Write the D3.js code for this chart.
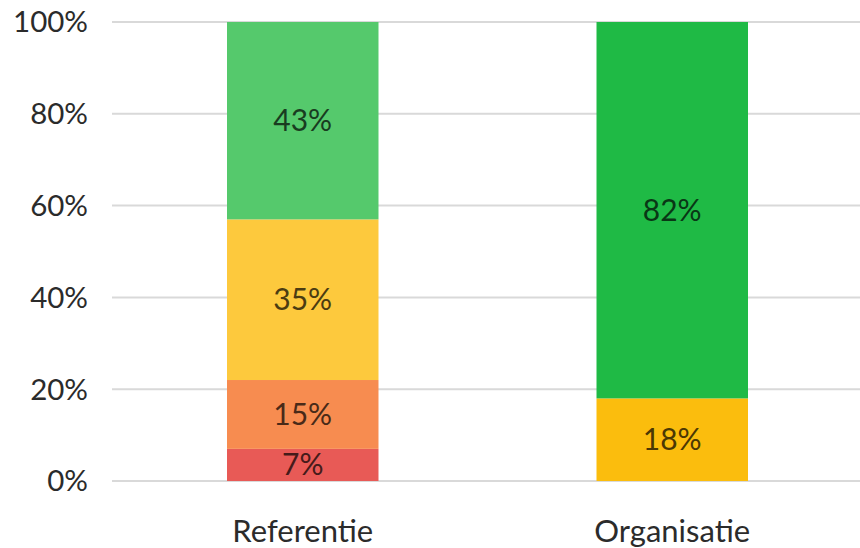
<!DOCTYPE html>
<html lang="nl">
<head>
  <meta charset="UTF-8" />
  <title>Referentie vs Organisatie</title>
  <style>
    body { margin: 0; background: #fff; }
    .grid line { stroke: #d9d9d9; stroke-width: 2px; }
    .tick-label { font-family: Lato, "Open Sans", sans-serif; fill: #2b2b2b; }
  </style>
</head>
<body>
  <script src="https://d3js.org/d3.v7.min.js"></script>
  <script>
    // data
    const categories = ["Referentie", "Organisatie"];
    const referentieValues = [7, 15, 35, 43];       // bottom -> top
    const referentieColors = ["#e85a56", "#f78c50", "#fdc93d", "#55c96c"];
    const organisatieValues = [18, 82];
    const organisatieColors = ["#fbbd0d", "#1fba45"];
    const yTicks = [0, 20, 40, 60, 80, 100];

    const width = 860, height = 548;

    const svg = d3.select("body").append("svg")
      .attr("width", width)
      .attr("height", height);

    const x = d3.scaleBand()
      .domain(categories)
      .range([118, 857])
      .paddingInner(0.59)
      .paddingOuter(0.295);

    const y = d3.scaleLinear()
      .domain([0, 100])
      .range([481, 22]);

    // gridlines
    svg.append("g")
      .attr("class", "grid")
      .selectAll("line")
      .data(yTicks)
      .enter()
      .append("line")
      .attr("x1", 112)
      .attr("x2", width)
      .attr("y1", d => y(d))
      .attr("y2", d => y(d));

    // y tick labels
    svg.append("g")
      .selectAll("text")
      .data(yTicks)
      .enter()
      .append("text")
      .attr("class", "tick-label")
      .attr("x", 88)
      .attr("y", d => y(d))
      .attr("dy", "0.35em")
      .attr("text-anchor", "end")
      .attr("font-size", 29.5)
      .text(d => d + "%");

    // stack the segments per category
    const bars = [
      { cat: "Referentie", values: referentieValues, colors: referentieColors },
      { cat: "Organisatie", values: organisatieValues, colors: organisatieColors }
    ];

    const segments = [];
    bars.forEach(b => {
      let acc = 0;
      b.values.forEach((v, i) => {
        segments.push({ cat: b.cat, y0: acc, y1: acc + v, value: v, color: b.colors[i] });
        acc += v;
      });
    });

    svg.append("g")
      .selectAll("rect")
      .data(segments)
      .enter()
      .append("rect")
      .attr("x", d => x(d.cat))
      .attr("width", x.bandwidth())
      .attr("y", d => y(d.y1))
      .attr("height", d => y(d.y0) - y(d.y1))
      .attr("fill", d => d.color);

    // data labels
    svg.append("g")
      .selectAll("text")
      .data(segments)
      .enter()
      .append("text")
      .attr("x", d => x(d.cat) + x.bandwidth() / 2)
      .attr("y", d => (y(d.y0) + y(d.y1)) / 2)
      .attr("dy", "0.35em")
      .attr("text-anchor", "middle")
      .attr("font-family", "Lato, 'Open Sans', sans-serif")
      .attr("font-size", 30)
      .attr("fill", d => d3.color(d.color).darker(3.4))
      .text(d => d.value + "%");

    // category labels
    svg.append("g")
      .selectAll("text")
      .data(categories)
      .enter()
      .append("text")
      .attr("class", "tick-label")
      .attr("x", d => x(d) + x.bandwidth() / 2)
      .attr("y", 531)
      .attr("dy", "0.35em")
      .attr("text-anchor", "middle")
      .attr("font-size", 31)
      .text(d => d);
  </script>
</body>
</html>
